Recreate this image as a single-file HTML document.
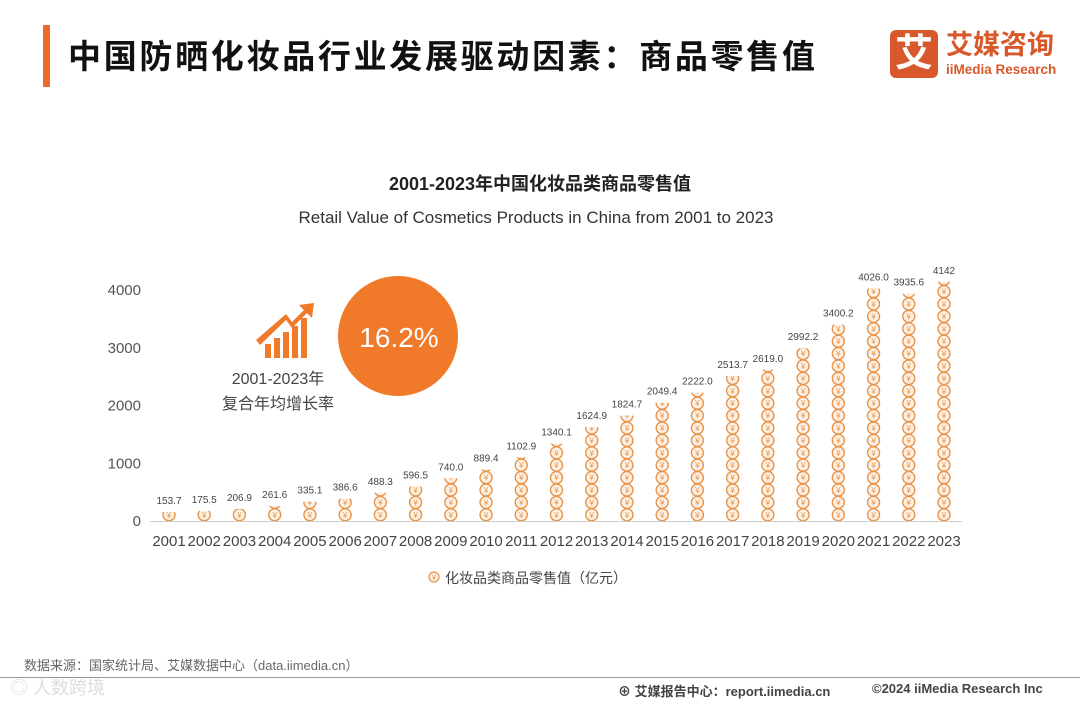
<!DOCTYPE html>
<html><head><meta charset="utf-8"><style>
body{margin:0;width:1080px;height:702px;background:#fff;overflow:hidden;font-family:"Liberation Sans","Noto Sans CJK SC",sans-serif;position:relative}
.abs{position:absolute}
</style></head><body>
<div class="abs" style="left:43px;top:25px;width:7px;height:62px;background:#ee6a2a"></div>
<div class="abs" style="left:68px;top:30px;font-size:33px;font-weight:bold;color:#111;letter-spacing:2.7px">中国防晒化妆品行业发展驱动因素：商品零售值</div>
<div class="abs" style="left:890px;top:30px;width:48px;height:48px;background:#d9582b;border-radius:6px;color:#fff;font-size:38px;font-weight:bold;text-align:center;line-height:48px">艾</div>
<div class="abs" style="left:946px;top:30px;color:#d9582b;font-size:27px;font-weight:bold;line-height:30px">艾媒咨询</div>
<div class="abs" style="left:946px;top:62px;color:#d9582b;font-size:13.5px;font-weight:bold">iiMedia Research</div>

<svg class="abs" style="left:0;top:0" width="1080" height="702">
<text x="540" y="190" text-anchor="middle" font-size="18" font-weight="bold" fill="#222">2001-2023年中国化妆品类商品零售值</text>
<text x="536" y="223" text-anchor="middle" font-size="17" fill="#333">Retail Value of Cosmetics Products in China from 2001 to 2023</text>
<g id="yaxis"></g><g id="bars"></g><g id="xaxis"></g>
<circle cx="398" cy="336" r="60" fill="#f07a2a"/>
<text x="399" y="347" text-anchor="middle" font-size="28" fill="#fff">16.2%</text>
<g fill="#f07a2a">
<rect x="265" y="344" width="6" height="14"/><rect x="274" y="338" width="6" height="20"/><rect x="283" y="332" width="6" height="26"/><rect x="292" y="326" width="6" height="32"/><rect x="301" y="318" width="6" height="40"/>
<path d="M256 340 L286 314 L292 322 L304 310 L299 305 L314 303 L312 318 L307 313 L292 328 L286 320 L260 345 Z"/>
</g>
<text x="278" y="384" text-anchor="middle" font-size="16" fill="#444">2001-2023年</text>
<text x="278" y="409" text-anchor="middle" font-size="16" fill="#444">复合年均增长率</text>
<g>
<circle cx="434" cy="577" r="5" fill="#fdf0e4" stroke="#e8944a" stroke-width="1.2"/>
<text x="434" y="580" text-anchor="middle" font-size="7" fill="#e8944a">¥</text>
<text x="445" y="583" font-size="14" fill="#444">化妆品类商品零售值（亿元）</text>
</g>
</svg>

<div class="abs" style="left:24px;top:655px;font-size:13px;color:#666">数据来源：国家统计局、艾媒数据中心（data.iimedia.cn）</div>
<div class="abs" style="left:0;top:677px;width:1080px;height:1px;background:#999"></div>
<div class="abs" style="left:10px;top:674px;font-size:18px;color:#ddd">◎ 人数跨境</div>
<div class="abs" style="left:618px;top:681px;font-size:13px;color:#444;font-weight:bold">⊕ 艾媒报告中心：report.iimedia.cn</div>
<div class="abs" style="left:872px;top:681px;font-size:13px;color:#444;font-weight:bold">©2024  iiMedia Research  Inc</div>

<script>
const years=["2001","2002","2003","2004","2005","2006","2007","2008","2009","2010","2011","2012","2013","2014","2015","2016","2017","2018","2019","2020","2021","2022","2023"];
const values=[153.7,175.5,206.9,261.6,335.1,386.6,488.3,596.5,740.0,889.4,1102.9,1340.1,1624.9,1824.7,2049.4,2222.0,2513.7,2619.0,2992.2,3400.2,4026.0,3935.6,4142];
const valueLabels=["153.7","175.5","206.9","261.6","335.1","386.6","488.3","596.5","740.0","889.4","1102.9","1340.1","1624.9","1824.7","2049.4","2222.0","2513.7","2619.0","2992.2","3400.2","4026.0","3935.6","4142"];
const yTicks=[0,1000,2000,3000,4000];
const NS="http://www.w3.org/2000/svg";
const y0=521,yMax=4000,yTop=290;
function ys(v){return y0-(v/yMax)*(y0-yTop);}
function xs(i){return 169+i*(944-169)/(years.length-1);}
function mk(tag,attrs,parent){const e=document.createElementNS(NS,tag);for(const k in attrs)e.setAttribute(k,attrs[k]);parent.appendChild(e);return e;}
const ya=document.getElementById('yaxis'),ba=document.getElementById('bars'),xa=document.getElementById('xaxis');
yTicks.forEach(t=>{const tx=mk('text',{x:141,y:ys(t)+5,'text-anchor':'end','font-size':15,fill:'#555'},ya);


tx.textContent=t;});
const base=mk('line',{x1:150,x2:962,y1:y0+0.5,y2:y0+0.5,stroke:'#ccc'},xa);


const defs=mk('defs',{},ba);
const coinH=12.4;
years.forEach((yr,i)=>{
  const cx=xs(i),top=ys(values[i]);
  const cp=mk('clipPath',{id:'c'+i},defs);
  mk('rect',{x:cx-9,y:top,width:18,height:y0-top},cp);
  const g=mk('g',{'clip-path':'url(#c'+i+')'},ba);
  
  
  for(let cy=y0-coinH/2;cy>top-coinH;cy-=coinH){
    mk('circle',{cx:cx,cy:cy,r:6,fill:'#fdf0e4',stroke:'#e8944a','stroke-width':1.4},g);
    const t=mk('text',{x:cx,y:cy+3,'text-anchor':'middle','font-size':8,fill:'#e8944a'},g);t.textContent='¥';
  }
  const lb=mk('text',{x:cx,y:top-8,'text-anchor':'middle','font-size':10,fill:'#444'},ba);
  
  
  lb.textContent=valueLabels[i];
  const xl=mk('text',{x:cx,y:546,'text-anchor':'middle','font-size':15,fill:'#444'},xa);
  
  
  xl.textContent=yr;
});
</script>
</body></html>
